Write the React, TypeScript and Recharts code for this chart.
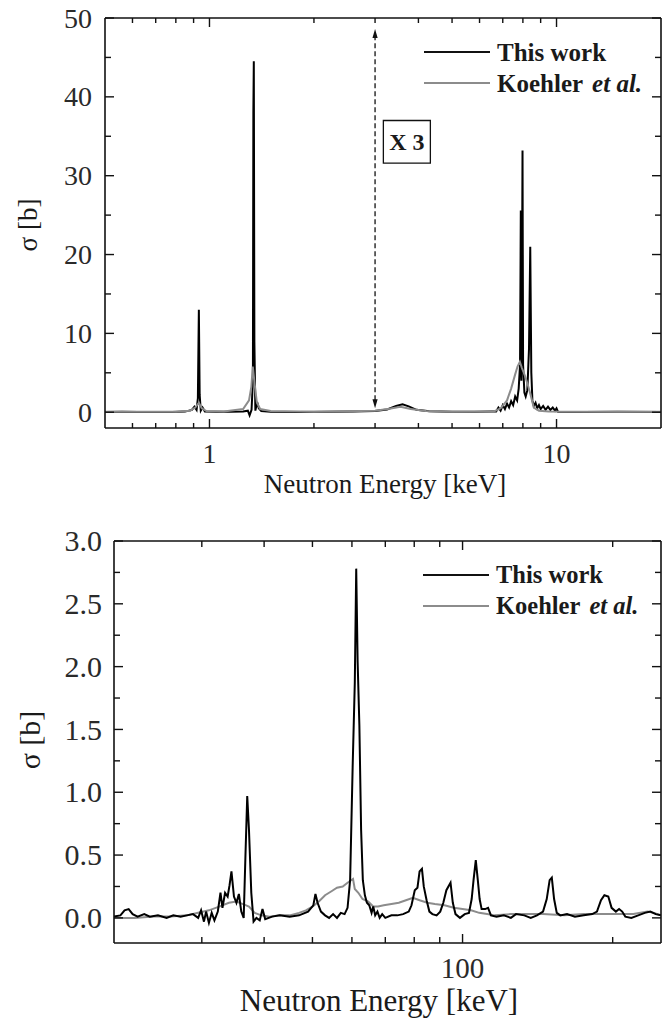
import React from "react";
import { LineChart, Line, XAxis, YAxis, ReferenceLine, ReferenceArea } from "recharts";

const FONT = '"Liberation Serif", "Times New Roman", Times, serif';
const INK = "#111111";
const GREY = "#8c8c8c";

// upper panel, 0.5 - 20 keV
const upperTicksX = [0.6, 0.7, 0.8, 0.9, 1, 2, 3, 4, 5, 6, 7, 8, 9, 10];
const upperMajorX = [1, 10];
const upperTicksY = [0, 5, 10, 15, 20, 25, 30, 35, 40, 45, 50];
const upperMajorY = [0, 10, 20, 30, 40, 50];

// [energy keV, sigma b]
const upperThisWork: [number, number][] = [
  [0.5, 0.02], [0.56, 0.05], [0.62, 0.02], [0.7, 0.04], [0.78, 0.02], [0.85, 0.08],
  [0.89, 0.3], [0.905, 0.7], [0.918, 0.3], [0.926, 1.8], [0.932, 13.0], [0.937, 2.2],
  [0.944, 0.2], [0.955, 0.6], [0.97, 0.1], [1.05, 0.05], [1.15, 0.06], [1.25, 0.1],
  [1.29, 0.2], [1.305, -0.4], [1.322, 0.3], [1.334, 4], [1.338, 38], [1.342, 44.5],
  [1.347, 9], [1.356, 0.2], [1.372, 1.3], [1.387, 0.5], [1.41, 0.15], [1.5, 0.05],
  [1.8, 0.04], [2.2, 0.06], [2.6, 0.08], [3.0, 0.15], [3.25, 0.35], [3.45, 0.8],
  [3.6, 1.0], [3.75, 0.75], [3.95, 0.3], [4.3, 0.12], [5.0, 0.05], [5.8, 0.06],
  [6.5, 0.1], [6.7, 0.1], [6.8, 0.6], [6.9, 0.2], [7.0, 0.9], [7.1, 0.4], [7.2, 1.1],
  [7.3, 0.6], [7.4, 1.4], [7.5, 0.9], [7.6, 2.0], [7.7, 1.5], [7.78, 3.0], [7.85, 6],
  [7.89, 25.6], [7.92, 4], [7.96, 20], [7.98, 33.2], [8.01, 6], [8.08, 2.5], [8.15, 2.0],
  [8.24, 2.8], [8.33, 8], [8.4, 21.0], [8.46, 5], [8.52, 1.5], [8.6, 0.8], [8.7, 1.2],
  [8.8, 0.5], [8.9, 0.9], [9.0, 0.4], [9.15, 0.8], [9.3, 0.3], [9.45, 0.7], [9.6, 0.3],
  [9.75, 0.6], [9.9, 0.2], [10.0, 0.5], [10.1, 0.05], [12, 0.03], [15, 0.05], [20, 0.02],
];

const upperKoehler: [number, number][] = [
  [0.5, 0.05], [0.8, 0.05], [0.88, 0.2], [0.91, 0.6], [0.932, 1.2], [0.95, 0.5],
  [0.98, 0.15], [1.1, 0.1], [1.25, 0.4], [1.3, 1.5], [1.32, 3.2], [1.333, 5.8],
  [1.35, 3.5], [1.37, 1.2], [1.4, 0.4], [1.5, 0.15], [2.0, 0.05], [3.0, 0.2],
  [3.3, 0.45], [3.55, 0.7], [3.8, 0.4], [4.2, 0.15], [5.0, 0.05], [6.6, 0.1],
  [6.9, 0.5], [7.2, 1.5], [7.4, 3.0], [7.6, 4.8], [7.72, 5.8], [7.84, 6.4],
  [7.95, 5.6], [8.13, 4.5], [8.3, 3.2], [8.42, 2.2], [8.6, 0.6], [8.9, 0.2],
  [9.5, 0.1], [12, 0.05], [20, 0.05],
];

// lower panel, 20 - 250 keV
const lowerTicksX = [30, 40, 50, 60, 70, 80, 90, 100, 200];
const lowerMajorX = [100];
const lowerTicksY = [0, 0.25, 0.5, 0.75, 1, 1.25, 1.5, 1.75, 2, 2.25, 2.5, 2.75, 3];
const lowerMajorY = [0, 0.5, 1, 1.5, 2, 2.5, 3];

const lowerThisWork: [number, number][] = [
  [20, 0.01], [20.6, 0.02], [21.0, 0.06], [21.4, 0.07], [21.8, 0.03], [22.3, 0.01],
  [23.0, 0.03], [23.6, 0.01], [24.5, 0.02], [25.5, 0.0], [26.3, 0.02], [27.2, 0.01],
  [28.0, 0.02], [28.8, 0.03], [29.5, 0.0], [29.9, 0.06], [30.3, -0.03], [30.6, 0.05],
  [31.0, -0.04], [31.4, 0.04], [31.8, -0.02], [32.3, 0.05], [32.7, 0.2], [33.0, 0.08],
  [33.4, 0.2], [33.8, 0.17], [34.1, 0.26], [34.4, 0.37], [34.8, 0.17], [35.2, 0.12],
  [35.6, 0.19], [36.0, 0.05], [36.4, 0.0], [36.7, 0.5], [37.0, 0.97], [37.3, 0.7],
  [37.7, 0.2], [38.1, -0.03], [38.6, 0.0], [39.2, -0.02], [39.7, 0.07], [40.2, -0.01],
  [41.5, 0.01], [43, 0.02], [45, 0.01], [47, 0.02], [49, 0.05], [50.2, 0.1],
  [50.7, 0.19], [51.2, 0.12], [52, 0.05], [53, 0.02], [54, 0.0], [55, 0.03], [56, 0.0],
  [57, 0.04], [58, 0.03], [58.8, 0.08], [59.5, 0.3], [60.2, 1.2], [60.8, 1.87],
  [61.2, 2.78], [61.6, 2.04], [62.1, 1.53], [62.6, 0.7], [63.1, 0.3], [63.7, 0.18],
  [64.3, 0.12], [65, 0.1], [65.7, 0.04], [66.2, 0.09], [66.8, 0.02], [67.5, 0.05],
  [68.2, 0.0], [69, 0.03], [70, 0.0], [72, 0.02], [74, 0.02], [76, 0.03], [78, 0.05],
  [79.0, 0.1], [80.2, 0.22], [81.2, 0.24], [82.0, 0.37], [82.9, 0.39], [83.6, 0.25],
  [84.7, 0.14], [85.8, 0.05], [87, 0.03], [88.7, 0.02], [90.2, 0.05], [91.5, 0.12],
  [92.8, 0.22], [94.6, 0.28], [95.6, 0.12], [96.8, 0.03], [98.8, 0.0], [101, 0.03],
  [103, 0.04], [104.3, 0.15], [105.2, 0.3], [106.3, 0.46], [107.3, 0.3], [108.2, 0.15],
  [109.2, 0.07], [111, 0.07], [112.5, 0.08], [114, 0.02], [117, 0.01], [121, 0.02],
  [125, 0.0], [128, 0.03], [133, 0.02], [137, 0.0], [141, 0.02], [145, 0.05],
  [147.5, 0.15], [149.5, 0.3], [151, 0.32], [152.6, 0.15], [154.5, 0.04], [157, 0.02],
  [162, 0.03], [168, 0.01], [175, 0.02], [182, 0.03], [186, 0.05], [189.5, 0.14],
  [192.5, 0.18], [196, 0.17], [199, 0.08], [203, 0.05], [206, 0.07], [209, 0.05],
  [212, 0.01], [218, 0.0], [225, 0.02], [232, 0.04], [238, 0.05], [244, 0.03], [250, 0.02],
];

const lowerKoehler: [number, number][] = [
  [20, 0.0], [22, 0.0], [24, 0.01], [26, 0.01], [28, 0.02], [29.5, 0.04], [31, 0.06],
  [32.5, 0.09], [34, 0.12], [35.2, 0.13], [36.3, 0.11], [37.3, 0.09], [38.3, 0.04],
  [39.5, 0.02], [41, 0.01], [43, 0.02], [45, 0.02], [47, 0.04], [48.5, 0.06], [50, 0.09],
  [51.5, 0.13], [53, 0.18], [54.5, 0.21], [56, 0.24], [57.5, 0.25], [58.8, 0.28],
  [60.3, 0.31], [60.8, 0.23], [61.8, 0.2], [63, 0.15], [64.7, 0.13], [66.2, 0.09],
  [67.7, 0.09], [69.5, 0.1], [72, 0.11], [74.5, 0.12], [77, 0.14], [79.5, 0.16],
  [82, 0.14], [85, 0.12], [88, 0.11], [92, 0.1], [96, 0.08], [100, 0.07], [104, 0.06],
  [108, 0.04], [112, 0.03], [116, 0.02], [125, 0.03], [135, 0.03], [145, 0.03],
  [160, 0.02], [175, 0.03], [190, 0.03], [205, 0.03], [220, 0.03], [235, 0.05],
  [242, 0.04], [250, 0.02],
];

const toRows = (pts: [number, number][]) => pts.map(([e, s]) => ({ e, s }));

type Side = "bottom" | "top" | "left" | "right";
type TickOpts = { major: number; minor: number; fontSize?: number; gap?: number; fmt?: (v: number) => string };

// inward tick marks, labels only on the majors
function inwardTick(side: Side, majors: number[], o: TickOpts) {
  return (props: any) => {
    const { x, y, payload } = props;
    const v = payload.value;
    const isMajor = majors.some((m) => Math.abs(m - v) < 1e-9);
    const len = isMajor ? o.major : o.minor;
    let pts = [x, y, x, y - len];
    if (side === "top") pts = [x, y, x, y + len];
    if (side === "left") pts = [x, y, x + len, y];
    if (side === "right") pts = [x, y, x - len, y];
    const fs = o.fontSize || 28;
    return (
      <g>
        <line x1={pts[0]} y1={pts[1]} x2={pts[2]} y2={pts[3]} stroke={INK} strokeWidth={1.4} />
        {isMajor && o.fmt && side === "bottom" && (
          <text x={x} y={y + (o.gap || 0)} textAnchor="middle" fontSize={fs} fontFamily={FONT} fill="#2a2a2a">
            {o.fmt(v)}
          </text>
        )}
        {isMajor && o.fmt && side === "left" && (
          <text x={x - (o.gap || 0)} y={y + fs * 0.34} textAnchor="end" fontSize={fs} fontFamily={FONT} fill="#2a2a2a">
            {o.fmt(v)}
          </text>
        )}
      </g>
    );
  };
}

const frame = { stroke: INK, strokeWidth: 1.6 };

function Legend({ top, left, fs }: { top: number; left: number; fs: number }) {
  return (
    <g fontFamily={FONT} fontWeight="bold" fontSize={fs} fill="#1a1a1a">
      <line x1={left} x2={left + 66} y1={top} y2={top} stroke={INK} strokeWidth={2} />
      <text x={left + 73} y={top + fs * 0.34}>This work</text>
      <line x1={left} x2={left + 66} y1={top + 31} y2={top + 31} stroke={GREY} strokeWidth={2} />
      <text x={left + 73} y={top + 31 + fs * 0.34}>
        Koehler
        <tspan dx={9} fontStyle="italic">et al.</tspan>
      </text>
    </g>
  );
}

function Arrow(p: any) {
  const { x1, y1, x2, y2 } = p;
  const x = x1;
  const yb = Math.max(y1, y2);
  const yt = Math.min(y1, y2);
  return (
    <g>
      <line x1={x} x2={x} y1={yb - 8} y2={yt + 8} stroke={INK} strokeWidth={1.3} strokeDasharray="5 3" />
      <polygon points={`${x},${yt} ${x - 2.6},${yt + 9} ${x + 2.6},${yt + 9}`} fill={INK} />
      <polygon points={`${x},${yb} ${x - 2.6},${yb - 9} ${x + 2.6},${yb - 9}`} fill={INK} />
    </g>
  );
}

// grey series sits on the mirrored top/right axes (same domains); 1px-wide boxes so they render
function UpperPanel() {
  return (
    <div style={{ position: "absolute", left: 0, top: 0, width: 670, height: 500 }}>
      <LineChart width={670} height={500} margin={{ top: 17, right: 8, bottom: 0, left: 0 }}>
        <XAxis dataKey="e" type="number" scale="log" domain={[0.5, 20]} allowDataOverflow
          ticks={upperTicksX} interval={0} height={72} tickSize={0} tickMargin={0} tickLine={false}
          axisLine={frame} tick={inwardTick("bottom", upperMajorX, { major: 9, minor: 5, fontSize: 28, gap: 35, fmt: (v) => String(v) })} />
        <XAxis xAxisId="top" orientation="top" dataKey="e" type="number" scale="log" domain={[0.5, 20]}
          allowDataOverflow ticks={upperTicksX} interval={0} height={1} tickSize={0} tickMargin={0}
          tickLine={false} axisLine={frame} tick={inwardTick("top", upperMajorX, { major: 9, minor: 5 })} />
        <YAxis type="number" domain={[-2, 50]} allowDataOverflow ticks={upperTicksY} interval={0}
          width={105} tickSize={0} tickMargin={0} tickLine={false} axisLine={frame}
          tick={inwardTick("left", upperMajorY, { major: 9, minor: 6, fontSize: 28, gap: 13, fmt: (v) => String(v) })} />
        <YAxis yAxisId="right" orientation="right" type="number" domain={[-2, 50]} allowDataOverflow
          ticks={upperTicksY} interval={0} width={1} tickSize={0} tickMargin={0} tickLine={false}
          axisLine={frame} tick={inwardTick("right", upperMajorY, { major: 9, minor: 6 })} />
        <ReferenceLine segment={[{ x: 3, y: 0.5 }, { x: 3, y: 48.6 }]} stroke={INK} shape={Arrow} />
        <ReferenceArea x1={3.17} x2={4.33} y1={31.6} y2={37.0} fill="#ffffff" fillOpacity={1}
          stroke={INK} strokeWidth={1.3}
          label={{
            content: (p: any) => {
              const vb = p.viewBox || {};
              return (
                <text x={vb.x + vb.width / 2} y={vb.y + vb.height / 2 + 8} textAnchor="middle"
                  fontFamily={FONT} fontWeight="bold" fontSize={24} fill="#1a1a1a">X 3</text>
              );
            },
          }} />
        <Line data={toRows(upperThisWork)} dataKey="s" type="linear" stroke="#000000" strokeWidth={2}
          dot={false} isAnimationActive={false} />
        <Line data={toRows(upperKoehler)} dataKey="s" xAxisId="top" yAxisId="right" type="linear"
          stroke={GREY} strokeWidth={2} dot={false} isAnimationActive={false} />
      </LineChart>
      <svg width={670} height={500} style={{ position: "absolute", left: 0, top: 0, pointerEvents: "none" }}>
        <Legend top={52} left={424} fs={25} />
        <text x={28} y={225} transform="rotate(-90 28 225)" textAnchor="middle" dominantBaseline="central"
          fontFamily={FONT} fontSize={27} fill="#1a1a1a">σ [b]</text>
        <text x={385} y={493} textAnchor="middle" fontFamily={FONT} fontSize={27} fill="#1a1a1a">
          Neutron Energy [keV]
        </text>
      </svg>
    </div>
  );
}

function LowerPanel() {
  return (
    <div style={{ position: "absolute", left: 0, top: 500, width: 670, height: 520 }}>
      <LineChart width={670} height={520} margin={{ top: 40, right: 8, bottom: 0, left: 0 }}>
        <XAxis dataKey="e" type="number" scale="log" domain={[20, 250]} allowDataOverflow
          ticks={lowerTicksX} interval={0} height={77} tickSize={0} tickMargin={0} tickLine={false}
          axisLine={frame} tick={inwardTick("bottom", lowerMajorX, { major: 9, minor: 6, fontSize: 29, gap: 35, fmt: (v) => String(v) })} />
        <XAxis xAxisId="top" orientation="top" dataKey="e" type="number" scale="log" domain={[20, 250]}
          allowDataOverflow ticks={lowerTicksX} interval={0} height={1} tickSize={0} tickMargin={0}
          tickLine={false} axisLine={frame} tick={inwardTick("top", lowerMajorX, { major: 9, minor: 6 })} />
        <YAxis type="number" domain={[-0.2, 3]} allowDataOverflow ticks={lowerTicksY} interval={0}
          width={114} tickSize={0} tickMargin={0} tickLine={false} axisLine={frame}
          tick={inwardTick("left", lowerMajorY, { major: 9, minor: 6, fontSize: 30, gap: 12, fmt: (v) => v.toFixed(1) })} />
        <YAxis yAxisId="right" orientation="right" type="number" domain={[-0.2, 3]} allowDataOverflow
          ticks={lowerTicksY} interval={0} width={1} tickSize={0} tickMargin={0} tickLine={false}
          axisLine={frame} tick={inwardTick("right", lowerMajorY, { major: 9, minor: 6 })} />
        <Line data={toRows(lowerKoehler)} dataKey="s" xAxisId="top" yAxisId="right" type="linear"
          stroke={GREY} strokeWidth={2} dot={false} isAnimationActive={false} />
        <Line data={toRows(lowerThisWork)} dataKey="s" type="linear" stroke="#000000" strokeWidth={2}
          dot={false} isAnimationActive={false} />
      </LineChart>
      <svg width={670} height={520} style={{ position: "absolute", left: 0, top: 0, pointerEvents: "none" }}>
        <Legend top={75} left={423} fs={24.5} />
        <text x={29} y={240} transform="rotate(-90 29 240)" textAnchor="middle" dominantBaseline="central"
          fontFamily={FONT} fontSize={30} fill="#1a1a1a">σ [b]</text>
        <text x={379} y={511} textAnchor="middle" fontFamily={FONT} fontSize={31} fill="#1a1a1a">
          Neutron Energy [keV]
        </text>
      </svg>
    </div>
  );
}

export default function App() {
  return (
    <div style={{ position: "absolute", left: 0, top: 0, width: 670, height: 1020, background: "#fff" }}>
      <UpperPanel />
      <LowerPanel />
    </div>
  );
}
